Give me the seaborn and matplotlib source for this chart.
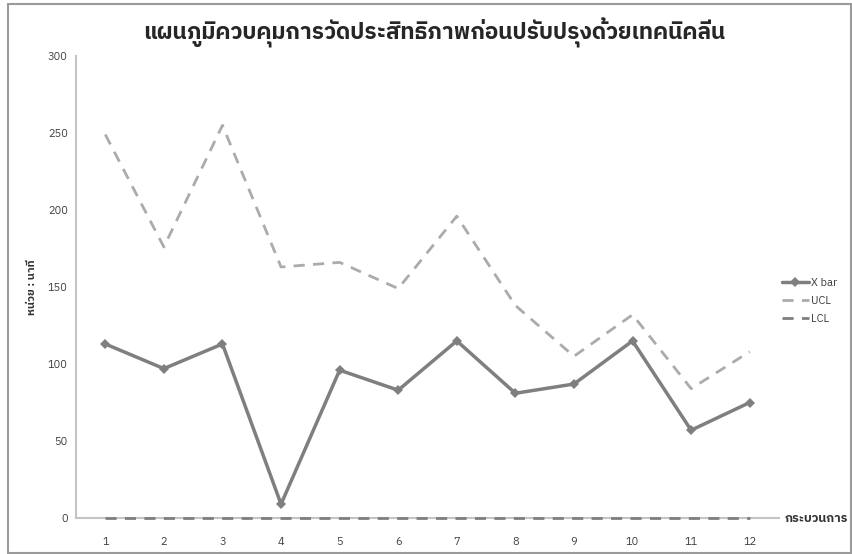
import matplotlib
matplotlib.use("Agg")
import matplotlib.pyplot as plt
import seaborn as sns
import pandas as pd
from matplotlib import font_manager

# ข้อมูล (อ่านจากภาพ)
processes = [1, 2, 3, 4, 5, 6, 7, 8, 9, 10, 11, 12]
xbar = [113, 97, 113, 9, 96, 83, 115, 81, 87, 115, 57, 75]
ucl = [249, 176, 255, 163, 166, 149, 196, 138, 105, 132, 84, 108]
lcl = [0, 0, 0, 0, 0, 0, 0, 0, 0, 0, 0, 0]

title = "แผนภูมิควบคุมการวัดประสิทธิภาพก่อนปรับปรุงด้วยเทคนิคลีน"
ylabel = "หน่วย : นาที"
xlabel = "กระบวนการ"

sns.set_theme(style="white")
names = {f.name for f in font_manager.fontManager.ttflist}
thai = sorted(n for n in names if "Thai" in n or n in ("Tahoma", "Loma", "Garuda", "Norasi", "Leelawadee UI"))
plt.rcParams["font.family"] = thai + ["DejaVu Sans"]

df = pd.DataFrame({"process": processes, "X bar": xbar, "UCL": ucl, "LCL": lcl})
df["pos"] = range(len(df))

fig = plt.figure(figsize=(8.52, 5.54), dpi=100)
ax = fig.add_axes([76 / 852, 1 - 518 / 554, (779 - 76) / 852, (518 - 56) / 554])

sns.lineplot(data=df, x="pos", y="X bar", ax=ax, color="#7f7f7f", lw=2.5,
             marker="D", markersize=5, markeredgewidth=0, label="X bar")
sns.lineplot(data=df, x="pos", y="UCL", ax=ax, color="#ababab", lw=2, label="UCL")
sns.lineplot(data=df, x="pos", y="LCL", ax=ax, color="#7f7f7f", lw=2, label="LCL")
lines = ax.get_lines()
for line in lines[1:]:
    line.set_dashes((4, 3))
lines[2].set_clip_on(False)
lines[2].set_zorder(5)

ax.set_xlim(-0.5, len(processes) - 0.5)
ax.set_ylim(0, 300)
ax.set_yticks(range(0, 301, 50))
ax.set_xticks(df["pos"])
ax.set_xticklabels([str(p) for p in processes])
ax.tick_params(axis="both", length=0, labelsize=8, colors="#404040")
ax.tick_params(axis="x", pad=14)
ax.tick_params(axis="y", pad=6)
for s in ["top", "right"]:
    ax.spines[s].set_visible(False)
for s in ["left", "bottom"]:
    ax.spines[s].set_color("#c4c4c4")
    ax.spines[s].set_linewidth(1.5)

ax.set_xlabel("")
ax.set_ylabel(ylabel, fontsize=8, fontweight="bold", color="#333333", labelpad=8)
ax.text(1.008, 0, xlabel, transform=ax.transAxes, fontsize=9, fontweight="bold",
        color="#333333", va="center", ha="left")
fig.text(0.51, 0.94, title, fontsize=16.3, fontweight="bold", color="#262626",
         ha="center", va="center")

leg = ax.legend(loc="center left", bbox_to_anchor=(0.99, 0.47), frameon=False,
                fontsize=8, handlelength=2.4, labelspacing=0.7, handletextpad=0.2)
for t in leg.get_texts():
    t.set_color("#404040")

fig.patches.append(plt.Rectangle((0.009, 0.002), 0.99, 0.99, transform=fig.transFigure,
                                 fill=False, edgecolor="#9a9a9a", lw=1.5))

fig.savefig("out.png", dpi=100, facecolor="white")
